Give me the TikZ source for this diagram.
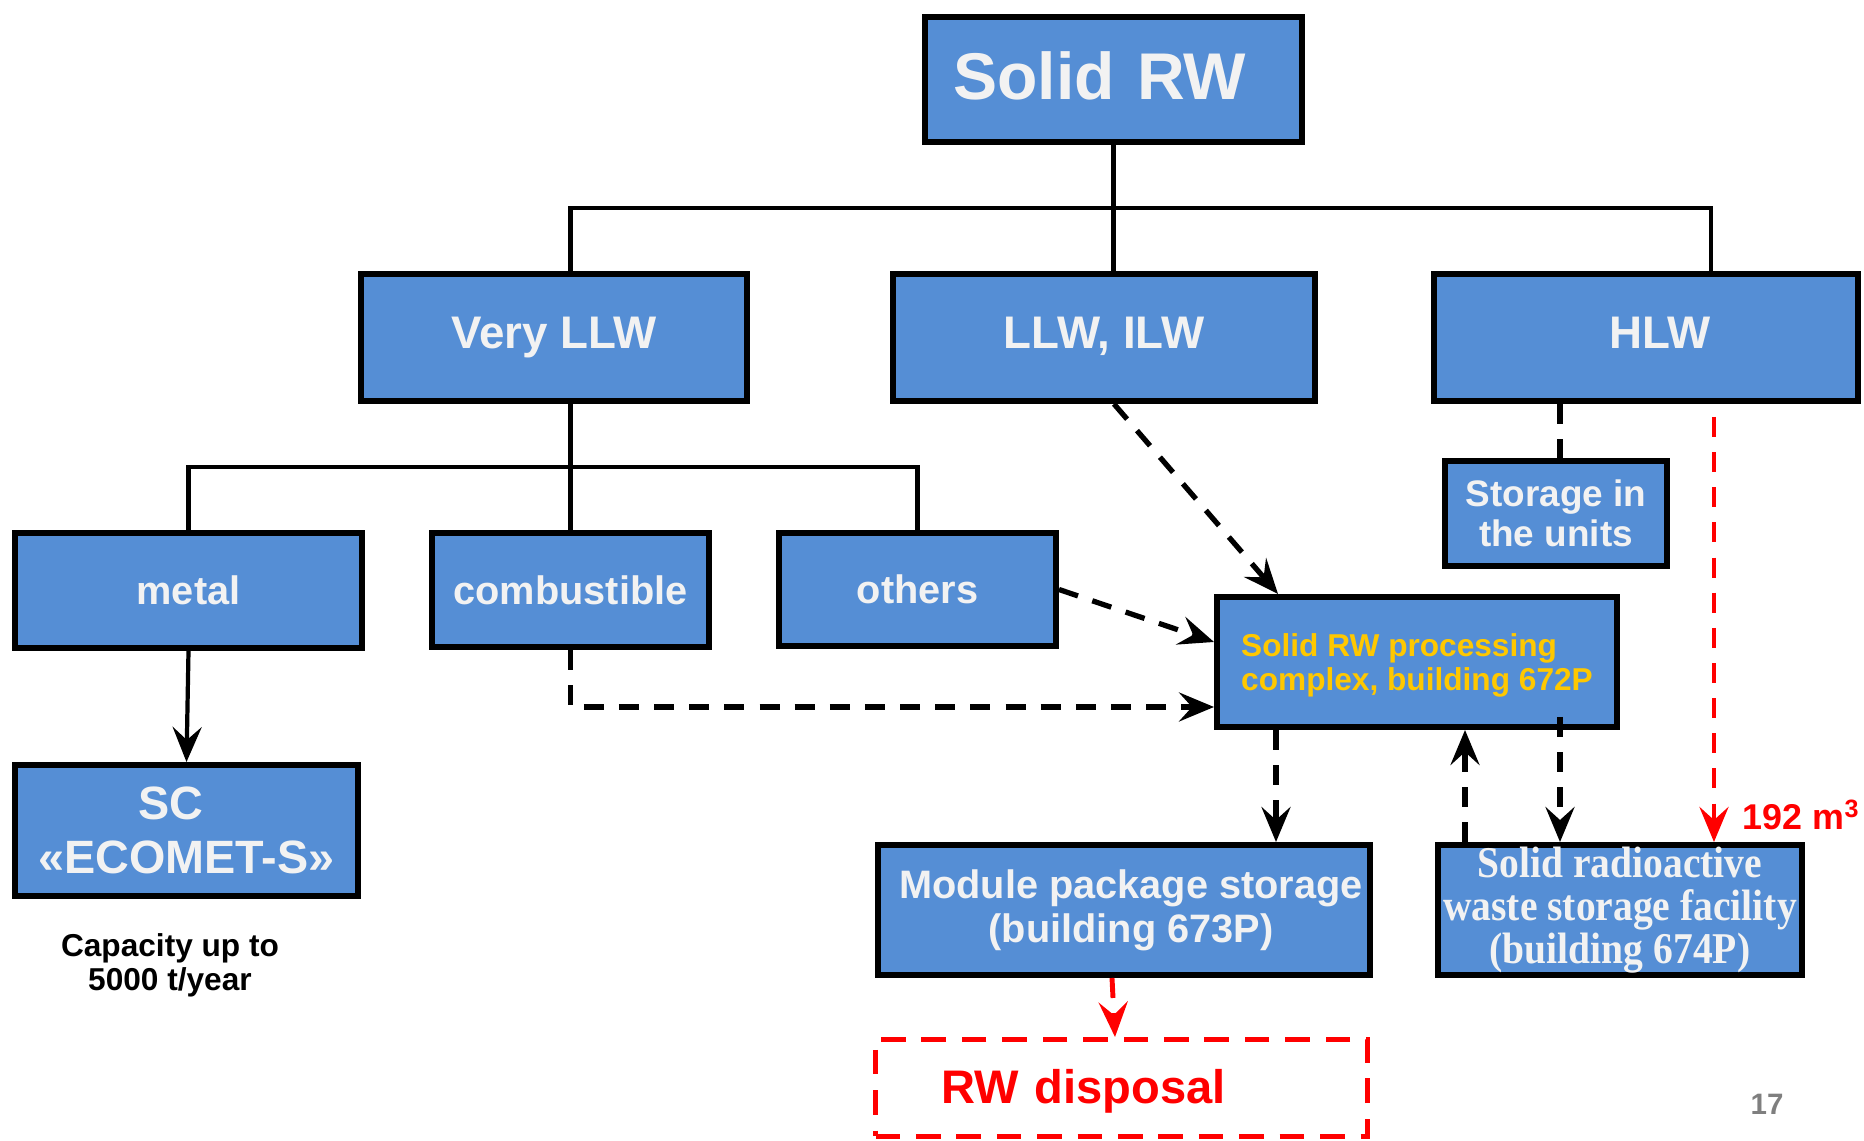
\documentclass[tikz,border=0pt]{standalone}
\usepackage{fontspec}
\setmainfont{Liberation Sans}
\newfontfamily\serifcond[FakeStretch=0.9]{Liberation Serif}
\usetikzlibrary{arrows.meta}
\definecolor{boxblue}{RGB}{85,142,213}
\definecolor{boxtext}{RGB}{242,242,242}
\definecolor{procyellow}{RGB}{255,200,0}
\definecolor{pagegray}{RGB}{127,127,127}
\newcommand{\fs}[2]{\fontsize{#1}{#2}\selectfont}

\begin{document}
\begin{tikzpicture}[x=1cm, y=-1cm,
	box/.style={draw, line width=1.7pt, fill=boxblue, text=boxtext, inner sep=0pt, align=center},
	tier/.style={box, minimum height=1.27cm, text height=9.3pt, text depth=3pt, font=\fs{13}{15}\bfseries},
	sort/.style={box, minimum width=2.77cm, font=\fs{11.3}{13}\bfseries},
	tree/.style={line width=1.2pt},
	tip/.style={-{Stealth[length=3.5mm, width=2.9mm, inset=1.3mm]}},
	flow/.style={line width=1.5pt, dash pattern=on 5.7pt off 4.3pt, tip},
	redflow/.style={flow, red, line width=1.4pt}]
	\useasboundingbox (0, 0) rectangle (18.64, 11.41);
	\node[box, minimum width=3.77cm, minimum height=1.25cm, text width=3.2cm, align=left, text height=13.5pt, text depth=2.3pt, font=\fs{18.8}{22}\bfseries](solid)at(11.135, 0.795){Solid RW};
	\node[tier, minimum width=3.86cm](vllw)at(5.54, 3.375){Very LLW};
	\node[tier, minimum width=4.22cm](lilw)at(11.04, 3.375){LLW, ILW};
	\node[tier, minimum width=4.24cm](hlw)at(16.46, 3.375){\hspace*{0.28cm}HLW};
	\node[sort, minimum width=3.47cm, minimum height=1.15cm](metal)at(1.885, 5.905){metal};
	\node[sort, minimum height=1.14cm](comb)at(5.705, 5.9){combustible};
	\node[sort, minimum height=1.13cm](others)at(9.175, 5.895){others};
	\node[box, minimum width=3.43cm, minimum height=1.31cm, font=\fs{13.3}{15.4}\bfseries](sc)at(1.865, 8.305){SC\hspace*{0.32cm}\\«ECOMET-S»};
	\node[align=center, font=\fs{9}{9.7}\bfseries](cap)at(1.70, 9.65){Capacity up to\\5000 t/year};
	\node[box, minimum width=2.22cm, minimum height=1.05cm, font=\fs{10.5}{11.4}\bfseries](units)at(15.56, 5.135){Storage in\\the units};
	\node[box, minimum width=4.0cm, minimum height=1.3cm, align=left, text depth=0pt, text=procyellow, font=\fs{9}{9.8}\bfseries](proc)at(14.17, 6.62){Solid RW processing\\complex, building 672P};
	\node[box, minimum width=4.92cm, minimum height=1.3cm, font=\fs{11.3}{12.5}\bfseries](mod)at(11.24, 9.1){\hspace*{0.14cm}Module package storage\\\hspace*{0.14cm}(building 673P)};
	\node[box, minimum width=3.64cm, minimum height=1.3cm, font=\serifcond\fs{12.5}{12.3}\bfseries](srw)at(16.2, 9.1){Solid radioactive\\waste storage facility\\(building 674P)};
	\node[draw=red, line width=1.4pt, dash pattern=on 7pt off 4.5pt, inner sep=0pt, minimum width=4.92cm, minimum height=0.97cm, text width=3.6cm, align=left, text height=9.6pt, text depth=0.5pt, text=red, font=\fs{13.4}{15}\bfseries](disp)at(11.215, 10.88){RW disposal};
	\node[anchor=east, inner sep=0pt, text=red, font=\fs{10.2}{12}\bfseries](m3)at(18.61, 8.15){192 m\textsuperscript{3}};
	\node[text=pagegray, font=\fs{8.4}{10}\bfseries](page)at(17.67, 11.04){17};
	\coordinate(busL)at(5.705, 2.08);
	\coordinate(busR)at(17.11, 2.08);
	\coordinate(bus2)at(0, 4.67);
	\coordinate(pA)at([xshift=6.2mm]proc.south west);
	\coordinate(pB)at([xshift=3mm]srw.north west);
	\coordinate(pC)at([xshift=12.5mm]srw.north west);
	\coordinate(pD)at([xshift=-9.1mm]srw.north east);
	\coordinate(pF)at(pC |- proc.south);
	\coordinate(pE)at(pD |- hlw.south);
	\draw[tree](solid.south)--(solid.south |- lilw.north);
	\draw[tree](busL |- vllw.north)--(busL)--(busR)--(busR |- hlw.north);
	\draw[tree](metal.north)--(metal.north |- bus2)--(others.north |- bus2)--(others.north);
	\draw[tree](vllw.south -| comb.north)--(comb.north);
	\draw[tree, tip](metal.south)--(sc.north);
	\draw[flow]([xshift=1mm]lilw.south)--([xshift=6.4mm]proc.north west);
	\draw[flow](others.east)--([yshift=2mm]proc.west);
	\draw[flow](comb.south)|-([yshift=-4.5mm]proc.west);
	\draw[flow](pA)--(pA |- mod.north);
	\draw[flow](pB)--(pB |- proc.south);
	\draw[flow]([yshift=1.3mm]pF)--(pC);
	\draw[line width=1.5pt, dash pattern=on 5.7pt off 4.3pt](pC |- hlw.south)--(pC |- units.north);
	\draw[redflow]([yshift=-1.3mm]pE)--(pD);
	\draw[redflow]([xshift=-1.2mm]mod.south)--([xshift=-0.65mm]disp.north);
\end{tikzpicture}
\end{document}
